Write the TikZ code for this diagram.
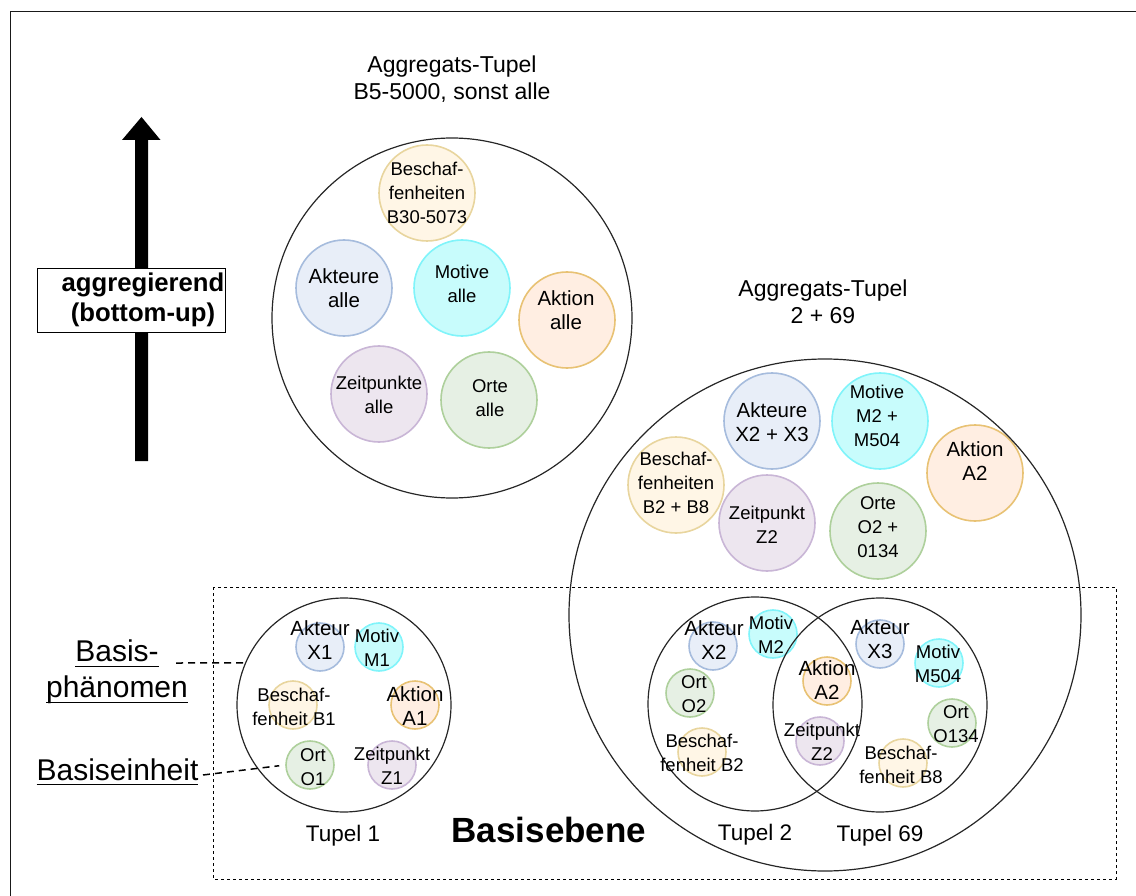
\documentclass[tikz,border=0pt]{standalone}
\usepackage{fontspec}
\setmainfont{Liberation Sans}
\usetikzlibrary{positioning}

\newsavebox\unterbox
\newcommand{\unterstr}[1]{\sbox\unterbox{#1}\rlap{\rule[-5.2pt]{\wd\unterbox}{1.4pt}}\usebox\unterbox}

\definecolor{blueF}{HTML}{E8EEF8}
\definecolor{blueD}{HTML}{A6BCDD}
\definecolor{cyanF}{HTML}{C8FCFC}
\definecolor{cyanD}{HTML}{80F4FA}
\definecolor{orangeF}{HTML}{FFEEE2}
\definecolor{orangeD}{HTML}{E8C274}
\definecolor{yellowF}{HTML}{FFF6E6}
\definecolor{yellowD}{HTML}{E8D59E}
\definecolor{purpleF}{HTML}{EDE6EF}
\definecolor{purpleD}{HTML}{C9B6D6}
\definecolor{greenF}{HTML}{E6F0E4}
\definecolor{greenD}{HTML}{AED09C}

\begin{document}
\begin{tikzpicture}[x=1pt, y=-1pt,
    unit/.style={circle, inner sep=0pt, minimum size=48pt, line width=1.6pt},
    aggr/.style={unit, minimum size=96pt},
    akt/.style={draw=blueD, fill=blueF},
    mot/.style={draw=cyanD, fill=cyanF},
    aktn/.style={draw=orangeD, fill=orangeF},
    besch/.style={draw=yellowD, fill=yellowF},
    zeit/.style={draw=purpleD, fill=purpleF},
    ort/.style={draw=greenD, fill=greenF},
    lbl/.style={align=center, inner sep=0pt, font=\fontsize{18.5pt}{24pt}\selectfont},
    lblbig/.style={lbl, font=\fontsize{20.5pt}{24pt}\selectfont},
    titel/.style={align=center, inner sep=0pt, font=\fontsize{23pt}{27.5pt}\selectfont},
    big/.style={circle, draw=black!85, line width=1.2pt, inner sep=0pt},
    tupel/.style={big, minimum size=214pt},
    conn/.style={line width=1.5pt, dash pattern=on 7pt off 5pt}]

    \useasboundingbox (0,0) rectangle (1136,896);
    \clip (0,0) rectangle (1136,896);

    % Rahmen
    \draw[line width=1pt, black!90] (10.5,11.5) rectangle (1150,910);

    % Pfeil nach oben
    \fill (135,461) -- (135,140) -- (122,140) -- (141.5,117) -- (160.5,140)
        -- (148,140) -- (148,461) -- cycle;
    \node[draw, fill=white, line width=0.9pt, minimum width=188pt,
        minimum height=64pt, inner sep=0pt] (richtung) at (131,300) {};
    \node[align=center, inner sep=0pt,
        font=\bfseries\fontsize{25.7pt}{30pt}\selectfont] (richtungtext)
        at (143,300) {aggregierend\\(bottom-up)};

    % Aggregats-Tupel oben
    \node[aggr, besch] (bA) at (427,193) {};
    \node[aggr, akt] (xA) at (344,288) {};
    \node[aggr, mot] (mA) at (462,288) {};
    \node[aggr, aktn] (aA) at (567,320) {};
    \node[aggr, zeit] (zA) at (379,394) {};
    \node[aggr, ort] (oA) at (489,400) {};
    \node[big, minimum size=360pt] (aggr1) at (452,318) {};

    % Aggregats-Tupel rechts
    \node[aggr, akt] (xB) at (772,421) {};
    \node[aggr, mot] (mB) at (880,421) {};
    \node[aggr, aktn] (aB) at (975,473) {};
    \node[aggr, besch] (bB) at (676,485) {};
    \node[aggr, zeit] (zB) at (767,523) {};
    \node[aggr, ort] (oB) at (878,531) {};

    % Basiseinheiten Tupel 1
    \node[unit, akt] (x1) at (320,647) {};
    \node[unit, mot] (m1) at (379,647) {};
    \node[unit, besch] (b1) at (293,705) {};
    \node[unit, aktn] (a1) at (415,705) {};
    \node[unit, ort] (o1) at (310,765) {};
    \node[unit, zeit] (z1) at (392,765) {};

    % Basiseinheiten Tupel 2 und 69
    \node[unit, akt] (x2) at (713,646) {};
    \node[unit, mot] (m2) at (773,634) {};
    \node[unit, ort] (o2) at (690,693) {};
    \node[unit, besch] (b2) at (702,752) {};
    \node[unit, aktn] (a2) at (827,681) {};
    \node[unit, zeit] (z2) at (820,741) {};
    \node[unit, akt] (x3) at (880,644) {};
    \node[unit, mot] (m504) at (939,663) {};
    \node[unit, ort] (o134) at (952,723) {};
    \node[unit, besch] (b8) at (903,763) {};

    % Tupel
    \node[big, minimum size=512pt] (aggr2) at (825,615) {};
    \node[tupel] (tupel1) at (344,705) {};
    \node[tupel] (tupel2) at (755,704) {};
    \node[tupel] (tupel69) at (880,705) {};

    % Basisebene
    \draw[line width=1pt, dash pattern=on 3pt off 3pt] (213,587) rectangle (1116,879);

    % Texte
    \node[titel] (titel1) at (452,79) {Aggregats-Tupel\\B5-5000, sonst alle};
    \node[titel] (titel2) at (823,302) {Aggregats-Tupel\\2 + 69};

    \node[lbl] (bAt) at (427,193) {Beschaf-\\fenheiten\\B30-5073};
    \node[lblbig] (xAt) at (344,288) {Akteure\\alle};
    \node[lbl] (mAt) at (462,284) {Motive\\alle};
    \node[lblbig] (aAt) at (566,310) {Aktion\\alle};
    \node[lbl] (zAt) at (379,395) {Zeitpunkte\\alle};
    \node[lbl] (oAt) at (490,398) {Orte\\alle};

    \node[lblbig] (xBt) at (772,422) {Akteure\\X2 + X3};
    \node[lbl] (mBt) at (877,416) {Motive\\M2 +\\M504};
    \node[lblbig] (aBt) at (975,461) {Aktion\\A2};
    \node[lbl] (bBt) at (676,483) {Beschaf-\\fenheiten\\B2 + B8};
    \node[lbl] (zBt) at (767,525) {Zeitpunkt\\Z2};
    \node[lbl] (oBt) at (878,527) {Orte\\O2 +\\0134};

    \node[lblbig] (x1t) at (320,640) {Akteur\\X1};
    \node[lbl] (m1t) at (377,648) {Motiv\\M1};
    \node[lbl] (b1t) at (294,707) {Beschaf-\\fenheit B1};
    \node[lblbig] (a1t) at (415,706) {Aktion\\A1};
    \node[lbl] (o1t) at (313,767) {Ort\\O1};
    \node[lbl] (z1t) at (392,766) {Zeitpunkt\\Z1};

    \node[lblbig] (x2t) at (714,640) {Akteur\\X2};
    \node[lbl] (m2t) at (771,635) {Motiv\\M2};
    \node[lbl] (o2t) at (694,694) {Ort\\O2};
    \node[lbl] (b2t) at (702,753) {Beschaf-\\fenheit B2};
    \node[lblbig] (a2t) at (827,680) {Aktion\\A2};
    \node[lbl] (z2t) at (822,742) {Zeitpunkt\\Z2};
    \node[lblbig] (x3t) at (880,639) {Akteur\\X3};
    \node[lbl] (m504t) at (938,664) {Motiv\\M504};
    \node[lbl] (o134t) at (956,724) {Ort\\O134};
    \node[lbl] (b8t) at (901,765) {Beschaf-\\fenheit B8};

    \node[titel, font=\fontsize{22.5pt}{27pt}\selectfont] (tupel1t) at (343,836) {Tupel 1};
    \node[titel, font=\fontsize{22.5pt}{27pt}\selectfont] (tupel2t) at (755,835) {Tupel 2};
    \node[titel, font=\fontsize{22.5pt}{27pt}\selectfont] (tupel69t) at (880,836) {Tupel 69};
    \node[inner sep=0pt, font=\bfseries\fontsize{35pt}{40pt}\selectfont]
        (basisebene) at (549,830) {Basisebene};

    % Basisphaenomen und Basiseinheit
    \node[align=center, inner sep=0pt, font=\fontsize{30pt}{36pt}\selectfont]
        (basis) at (117,672) {\unterstr{Basis-}\\\unterstr{phänomen}};
    \node[inner sep=0pt, font=\fontsize{30pt}{36pt}\selectfont]
        (einheit) at (117.5,772) {\unterstr{Basiseinheit}};
    \coordinate (pa) at (176,663);
    \coordinate (pb) at (203,775);
    \draw[conn] (pa) -- (tupel1.157);
    \draw[conn, shorten >=6pt] (pb) -- (o1.west);

\end{tikzpicture}
\end{document}
